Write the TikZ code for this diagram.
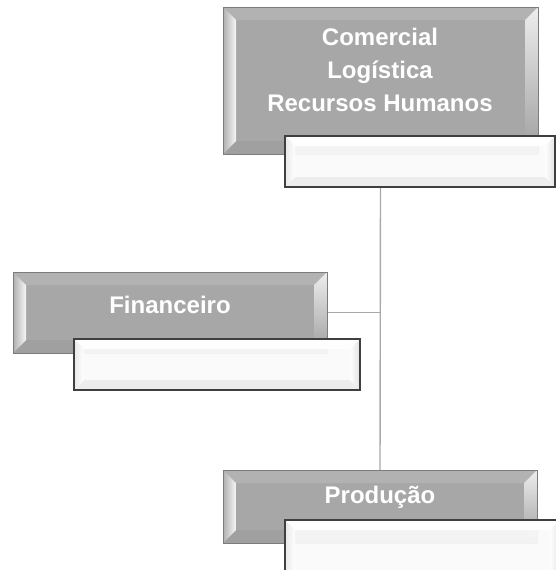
\documentclass[tikz,border=0pt]{standalone}
\usepackage{fontspec}
\setmainfont{Liberation Sans}
\usetikzlibrary{backgrounds}
\definecolor{gface}{HTML}{A7A7A7}
\definecolor{gedge}{HTML}{7C7C7C}
\definecolor{wedge}{HTML}{3F3F3F}
\definecolor{wface}{HTML}{FAFAFA}
\definecolor{conncol}{HTML}{A9A9A9}
\newcommand\bevelbox[6]{%
  \path (path picture bounding box.south west) coordinate (bSW)
        (path picture bounding box.north east) coordinate (bNE)
        (path picture bounding box.north west) coordinate (bNW)
        (path picture bounding box.south east) coordinate (bSE);
  \fill[#2] (bNW) -- (bNE) -- ([xshift=-#1pt,yshift=-#1pt]bNE) -- ([xshift=#1pt,yshift=-#1pt]bNW) -- cycle;
  \fill[#5] (bSW) -- (bSE) -- ([xshift=-#1pt,yshift=#1pt]bSE) -- ([xshift=#1pt,yshift=#1pt]bSW) -- cycle;
  \shade[#3] (bSW) -- (bNW) -- ([xshift=#1pt,yshift=-#1pt]bNW) -- ([xshift=#1pt,yshift=#1pt]bSW) -- cycle;
  \shade[#4] (bSE) -- (bNE) -- ([xshift=-#1pt,yshift=-#1pt]bNE) -- ([xshift=-#1pt,yshift=#1pt]bSE) -- cycle;
  #6}
\begin{document}
\begin{tikzpicture}[x=1pt,y=-1pt,
  every node/.style={inner sep=0pt,outer sep=0pt},
  graybox/.style={draw=gedge,line width=1pt,fill=gface,anchor=north west,
    path picture={\bevelbox{13}{fill=gface!88!white}{left color=gface!90!white,right color=white!90!gface}{top color=white!80!gface,bottom color=gface!95!black}{fill=gface!96!black}{}}},
  whitebox/.style={draw=wedge,line width=1.3pt,fill=wface,fill opacity=0.93,anchor=north west,
    path picture={\bevelbox{10}{fill=white}{left color=black!9,right color=white}{left color=white,right color=black!12}{fill=black!7}{}}},
  lbl/.style={text=white,font=\fontsize{24}{33}\selectfont\bfseries,align=center},
  conn/.style={draw=conncol,line width=1.4pt}]
\useasboundingbox (0,0) rectangle (556,570);
\clip (0,0) rectangle (556,570);
\node[graybox,minimum width=315pt,minimum height=147pt] (tg) at (223,7) {};
\node[whitebox,minimum width=270pt,minimum height=51pt] (tw) at (285,136) {};
\node[graybox,minimum width=314pt,minimum height=81pt] (fg) at (13,272) {};
\node[whitebox,minimum width=286pt,minimum height=51pt] (fw) at (74,339) {};
\node[graybox,minimum width=314pt,minimum height=73pt] (pg) at (223,470) {};
\node[whitebox,minimum width=275pt,minimum height=62pt] (pw) at (285,520) {};
\node[lbl] (tl) at (380,70) {Comercial\\Logística\\Recursos Humanos};
\node[lbl] (fl) at (170,305) {Financeiro};
\node[lbl] (pl) at (380,497) {Produção};
\begin{scope}[on background layer]
\draw[conn] (tg.south |- tw.south) -- (pg.north);
\draw[conn] (fg.east) -- (fg.east -| pg.north);
\end{scope}
\end{tikzpicture}
\end{document}
